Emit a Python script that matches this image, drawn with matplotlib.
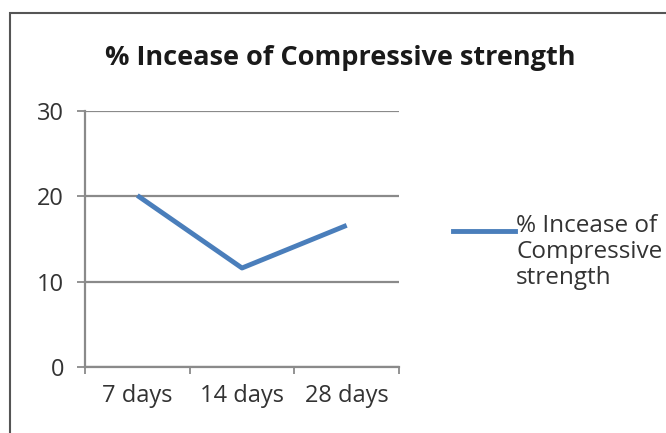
import matplotlib.pyplot as plt
from matplotlib.patches import Rectangle
from matplotlib.lines import Line2D

# datos
categories = ["7 days", "14 days", "28 days"]
increase = [20.1, 11.6, 16.6]
title = "% Incease of Compressive strength"
series_label = "% Incease of\nCompressive\nstrength"
y_ticks = [0, 10, 20, 30]

plt.rcParams['font.family'] = ['Open Sans', 'DejaVu Sans']
gray = "#8a8a8a"
blue = "#4A7EBB"
txt = "#333333"

fig = plt.figure(figsize=(6.66, 4.33), dpi=100)
ax = fig.add_axes([85 / 666, 1 - 367 / 433, 314 / 666, 256 / 433])

x = list(range(len(categories)))
ax.plot(x, increase, color=blue, linewidth=3.5, solid_capstyle="butt")

ax.set_xlim(-0.5, len(categories) - 0.5)
ax.set_ylim(0, 30)
ax.set_yticks(y_ticks)
ax.yaxis.grid(True, color=gray, linewidth=1.6)
ax.set_axisbelow(True)

# ticks entre categorias, etiquetas en el centro
ax.set_xticks([i - 0.5 for i in range(len(categories) + 1)])
ax.set_xticklabels([])
ax.set_xticks(x, minor=True)
ax.set_xticklabels(categories, minor=True, fontsize=17, color=txt)
ax.tick_params(axis="x", which="minor", length=0, pad=12)
ax.tick_params(axis="x", which="major", length=5, color=gray, width=1.3)
ax.tick_params(axis="y", length=6, color=gray, width=1.3, labelsize=17,
               labelcolor=txt, pad=9)

for s in ["top", "right"]:
    ax.spines[s].set_visible(False)
for s in ["left", "bottom"]:
    ax.spines[s].set_color(gray)
    ax.spines[s].set_linewidth(1.6)

fig.text(340 / 666, 1 - 58 / 433, title, ha="center", va="center",
         fontsize=19.5, fontweight="bold", color="#1a1a1a")

# leyenda manual
fig.add_artist(Line2D([453 / 666, 515 / 666], [1 - 231 / 433] * 2,
                      color=blue, linewidth=3.5))
fig.text(516 / 666, 1 - 214 / 433, series_label, ha="left", va="top",
         fontsize=17.5, color=txt, linespacing=1.1)

# borde del grafico
fig.add_artist(Rectangle((10 / 666, -0.1), 1.2, 1.1 - 13 / 433,
                         transform=fig.transFigure, fill=False,
                         edgecolor="#555555", linewidth=1.5))

plt.savefig("out.png", dpi=100)
